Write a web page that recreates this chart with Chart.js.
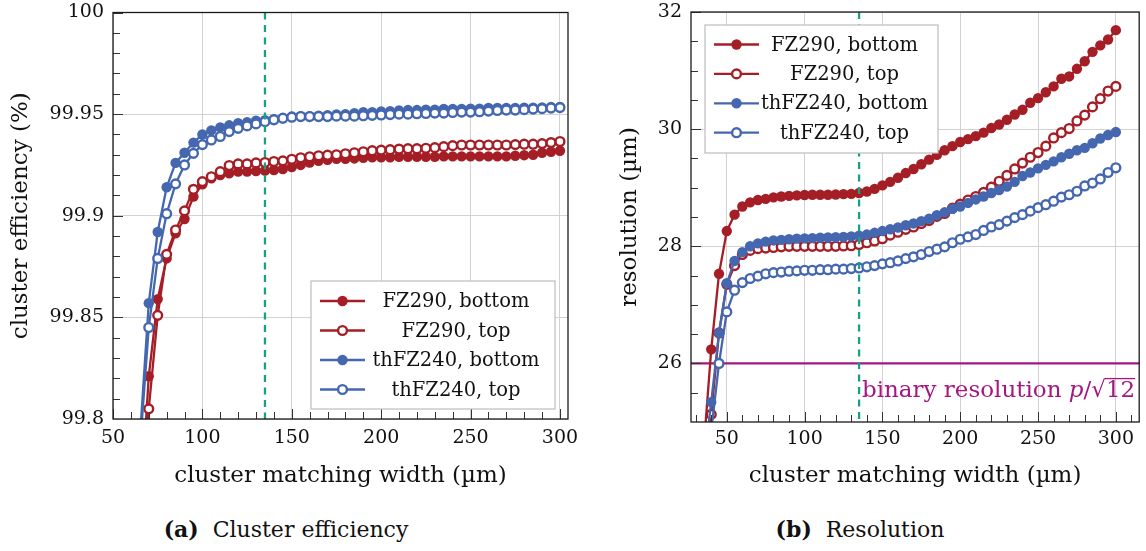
<!DOCTYPE html>
<html>
<head>
<meta charset="utf-8">
<title>Cluster efficiency and resolution vs cluster matching width</title>
<script src="https://cdn.jsdelivr.net/npm/chart.js@4.4.0/dist/chart.umd.min.js"></script>
<style>
  body { margin: 0; background: #fff; width: 1146px; height: 551px; position: relative; overflow: hidden; font-family: 'DejaVu Serif', serif; color: #111; }
  canvas { position: absolute; top: 0; }
  #eff { left: 0; }
  #res { left: 580px; }
  .caption { position: absolute; top: 516px; font-size: 22px; line-height: 26px; white-space: nowrap; transform: translateX(-50%); }
</style>
</head>
<body>
<canvas id="eff" width="580" height="500"></canvas>
<canvas id="res" width="566" height="500"></canvas>
<div class="caption" style="left:286px"><b>(a)</b>&nbsp; Cluster efficiency</div>
<div class="caption" style="left:860px"><b>(b)</b>&nbsp; Resolution</div>
<script>
// ---- data ----
const seriesNames = ['FZ290, bottom', 'FZ290, top', 'thFZ240, bottom', 'thFZ240, top'];

// (a) cluster efficiency (%)
const effWidth = [65, 70, 75, 80, 85, 90, 95, 100,
  105, 110, 115, 120, 125, 130, 135, 140, 145, 150,
  155, 160, 165, 170, 175, 180, 185, 190, 195, 200,
  205, 210, 215, 220, 225, 230, 235, 240, 245, 250,
  255, 260, 265, 270, 275, 280, 285, 290, 295, 300];
const effFZ290Bottom = [99.75, 99.821, 99.859, 99.879, 99.8914, 99.8984, 99.9094, 99.9155,
  99.9184, 99.920, 99.9209, 99.9217, 99.9217, 99.922, 99.9222, 99.9225, 99.923, 99.924,
  99.925, 99.9262, 99.927, 99.9275, 99.928, 99.928, 99.9282, 99.9285, 99.9288, 99.9288,
  99.9288, 99.929, 99.929, 99.929, 99.929, 99.929, 99.9292, 99.9292, 99.9292, 99.9292,
  99.9292, 99.9292, 99.9292, 99.9292, 99.9295, 99.9298, 99.930, 99.931, 99.9315, 99.932];
const effFZ290Top = [99.76, 99.805, 99.851, 99.881, 99.893, 99.9024, 99.913, 99.9168,
  99.9192, 99.9217, 99.9247, 99.9255, 99.9255, 99.926, 99.9262, 99.9267, 99.927, 99.9278,
  99.9285, 99.929, 99.9295, 99.9298, 99.930, 99.9305, 99.931, 99.9315, 99.932, 99.9323,
  99.9325, 99.9328, 99.933, 99.933, 99.9332, 99.9335, 99.934, 99.9345, 99.9348, 99.9348,
  99.9348, 99.9348, 99.9348, 99.9348, 99.935, 99.9352, 99.9352, 99.9355, 99.936, 99.9365];
const effThFZ240Bottom = [99.79, 99.857, 99.892, 99.914, 99.926, 99.931, 99.936, 99.940,
  99.942, 99.9435, 99.9445, 99.9455, 99.946, 99.9468, 99.947, 99.9475, 99.948, 99.9488,
  99.949, 99.949, 99.9492, 99.9495, 99.9498, 99.950, 99.9505, 99.951, 99.951, 99.9513,
  99.9515, 99.9518, 99.952, 99.952, 99.9522, 99.9522, 99.9525, 99.9525, 99.9525, 99.9527,
  99.9527, 99.953, 99.953, 99.953, 99.953, 99.9532, 99.9532, 99.9533, 99.9535, 99.9535];
const effThFZ240Top = [99.785, 99.845, 99.879, 99.901, 99.9157, 99.925, 99.9307, 99.935,
  99.9373, 99.939, 99.9414, 99.943, 99.9442, 99.9452, 99.9463, 99.9472, 99.948, 99.9485,
  99.9488, 99.9488, 99.9488, 99.9488, 99.949, 99.949, 99.949, 99.9492, 99.9494, 99.9496,
  99.9498, 99.950, 99.950, 99.9502, 99.9503, 99.9505, 99.9505, 99.9508, 99.951, 99.951,
  99.9512, 99.9515, 99.9518, 99.952, 99.952, 99.9522, 99.9525, 99.9527, 99.953, 99.9532];

// (b) resolution (um)
const resWidth = [35, 40, 45, 50,
  55, 60, 65, 70, 75, 80, 85, 90, 95, 100,
  105, 110, 115, 120, 125, 130, 135, 140, 145, 150,
  155, 160, 165, 170, 175, 180, 185, 190, 195, 200,
  205, 210, 215, 220, 225, 230, 235, 240, 245, 250,
  255, 260, 265, 270, 275, 280, 285, 290, 295, 300];
const resFZ290Bottom = [24.5, 26.24, 27.53, 28.26,
  28.54, 28.68, 28.75, 28.79, 28.81, 28.835, 28.85, 28.86, 28.87, 28.875,
  28.88, 28.88, 28.88, 28.885, 28.89, 28.895, 28.91, 28.935, 28.98, 29.04,
  29.10, 29.17, 29.25, 29.32, 29.40, 29.48, 29.56, 29.64, 29.71, 29.78,
  29.83, 29.88, 29.94, 30.02, 30.08, 30.16, 30.25, 30.33, 30.45, 30.53,
  30.63, 30.73, 30.86, 30.90, 31.03, 31.16, 31.32, 31.43, 31.53, 31.69];
const resFZ290Top = [24.0, 25.13, 26.52, 27.35,
  27.67, 27.86, 27.93, 27.96, 27.97, 27.98, 27.99, 28.0, 28.0, 28.0,
  28.0, 28.0, 28.0, 28.0, 28.005, 28.01, 28.03, 28.06, 28.09, 28.13,
  28.19, 28.24, 28.29, 28.33, 28.39, 28.44, 28.51, 28.56, 28.65, 28.72,
  28.79, 28.85, 28.92, 29.01, 29.11, 29.21, 29.32, 29.42, 29.52, 29.60,
  29.71, 29.85, 29.94, 30.01, 30.14, 30.24, 30.38, 30.52, 30.65, 30.73];
const resThFZ240Bottom = [24.2, 25.34, 26.52, 27.37,
  27.75, 27.90, 28.0, 28.05, 28.08, 28.10, 28.11, 28.12, 28.13, 28.135,
  28.14, 28.145, 28.15, 28.155, 28.16, 28.17, 28.18, 28.20, 28.23, 28.26,
  28.29, 28.32, 28.36, 28.39, 28.43, 28.47, 28.53, 28.58, 28.64, 28.68,
  28.74, 28.80, 28.85, 28.91, 28.96, 29.02, 29.10, 29.20, 29.26, 29.33,
  29.39, 29.45, 29.52, 29.58, 29.64, 29.68, 29.76, 29.84, 29.90, 29.95];
const resThFZ240Top = [23.8, 24.85, 26.0, 26.88,
  27.25, 27.38, 27.45, 27.49, 27.53, 27.55, 27.56, 27.575, 27.58, 27.59,
  27.59, 27.60, 27.60, 27.61, 27.61, 27.62, 27.63, 27.65, 27.67, 27.70,
  27.72, 27.75, 27.79, 27.82, 27.86, 27.91, 27.95, 27.99, 28.06, 28.12,
  28.16, 28.20, 28.27, 28.33, 28.37, 28.43, 28.49, 28.54, 28.60, 28.66,
  28.71, 28.77, 28.84, 28.88, 28.94, 29.03, 29.08, 29.15, 29.26, 29.34];

const effTicksX = [50, 100, 150, 200, 250, 300];
const effTicksY = [99.8, 99.85, 99.9, 99.95, 100];
const resTicksX = [50, 100, 150, 200, 250, 300];
const resTicksY = [26, 28, 30, 32];

const matchingCut = 135;      // dashed line
const binaryResolution = 26;  // p / sqrt(12)

// ---- style ----
const RED = '#a51e25';
const BLUE = '#4467b0';
const TEAL = '#17a086';
const PURPLE = '#a3177f';
const GRID = '#d2d2d2';
const INK = '#111';
const FONT = '"DejaVu Serif", serif';

const styles = [
  { color: RED, filled: true },
  { color: RED, filled: false },
  { color: BLUE, filled: true },
  { color: BLUE, filled: false }
];

function lineSet(i, xs, ys) {
  const s = styles[i];
  return {
    label: seriesNames[i],
    data: xs.map((x, k) => ({ x: x, y: ys[k] })),
    borderColor: s.color,
    borderWidth: 2.3,
    pointRadius: s.filled ? 5.2 : 4.4,
    pointBorderWidth: s.filled ? 0 : 2.4,
    pointBackgroundColor: s.filled ? s.color : '#fff',
    pointBorderColor: s.color,
    pointHoverRadius: 0,
    tension: 0,
    fill: false,
    order: 3 - i
  };
}

function drawMarker(ctx, x, y, s) {
  ctx.beginPath();
  ctx.arc(x, y, s.filled ? 5.2 : 4.4, 0, Math.PI * 2);
  ctx.fillStyle = s.filled ? s.color : '#fff';
  ctx.fill();
  if (!s.filled) {
    ctx.lineWidth = 2.4;
    ctx.strokeStyle = s.color;
    ctx.stroke();
  }
}

function range(a, b, step) {
  const out = [];
  for (let v = a; v <= b + 1e-9; v += step) out.push(+v.toFixed(4));
  return out;
}

// ticks, frame, reference lines and legend
function decor(cfg) {
  return {
    id: 'decor',
    beforeDatasetsDraw(chart) {
      const { ctx, chartArea: a, scales: { y } } = chart;
      if (cfg.hline !== undefined) {
        const py = y.getPixelForValue(cfg.hline);
        ctx.save();
        ctx.strokeStyle = PURPLE;
        ctx.lineWidth = 2.3;
        ctx.beginPath();
        ctx.moveTo(a.left, py);
        ctx.lineTo(a.right, py);
        ctx.stroke();
        ctx.restore();
      }
    },
    afterDatasetsDraw(chart) {
      const { ctx, chartArea: a, scales: { x, y } } = chart;
      ctx.save();
      // dashed cut
      const vx = x.getPixelForValue(cfg.vline);
      ctx.strokeStyle = TEAL;
      ctx.lineWidth = 2.3;
      ctx.setLineDash([7, 5.5]);
      ctx.beginPath();
      ctx.moveTo(vx, a.top);
      ctx.lineTo(vx, a.bottom);
      ctx.stroke();
      ctx.setLineDash([]);

      // inward tick marks
      ctx.strokeStyle = '#333';
      ctx.lineWidth = 1;
      ctx.beginPath();
      cfg.xMinor.forEach(v => {
        const px = Math.round(x.getPixelForValue(v)) + 0.5;
        if (px <= a.left || px >= a.right) return;
        const len = cfg.xMajor.includes(v) ? 10 : 7;
        ctx.moveTo(px, a.bottom);
        ctx.lineTo(px, a.bottom - len);
      });
      cfg.yMinor.forEach(v => {
        const py = Math.round(y.getPixelForValue(v)) + 0.5;
        if (py <= a.top || py >= a.bottom) return;
        const len = cfg.yMajor.some(m => Math.abs(m - v) < 1e-6) ? 10 : 7;
        ctx.moveTo(a.left, py);
        ctx.lineTo(a.left + len, py);
      });
      ctx.stroke();

      // frame
      ctx.strokeStyle = '#1a1a1a';
      ctx.lineWidth = 1.3;
      ctx.strokeRect(a.left, a.top, a.right - a.left, a.bottom - a.top);

      // binary resolution label
      if (cfg.hline !== undefined) {
        const size = 23;
        const up = size + 'px ' + FONT;
        const it = 'italic ' + size + 'px ' + FONT;
        const parts = [['binary resolution ', up], ['p', it], ['/', up], ['\u221A', up], ['12', up]];
        let total = 0;
        const widths = parts.map(p => { ctx.font = p[1]; const w = ctx.measureText(p[0]).width; total += w; return w; });
        let px = a.right - 4 - total;
        const base = y.getPixelForValue(cfg.hline) + 34;
        ctx.fillStyle = PURPLE;
        ctx.textBaseline = 'alphabetic';
        ctx.textAlign = 'left';
        parts.forEach((p, i) => {
          ctx.font = p[1];
          ctx.fillText(p[0], px, base);
          if (p[0] === '12') {
            ctx.strokeStyle = PURPLE;
            ctx.lineWidth = 1.3;
            ctx.beginPath();
            ctx.moveTo(px - 1, base - size * 0.82);
            ctx.lineTo(px + widths[i], base - size * 0.82);
            ctx.stroke();
          }
          px += widths[i];
        });
      }

      // legend
      const L = cfg.legend;
      const bx = L.fromRight ? a.right - L.dx - L.w : a.left + L.dx;
      const by = L.fromBottom ? a.bottom - L.dy - L.h : a.top + L.dy;
      ctx.fillStyle = '#fff';
      ctx.fillRect(bx, by, L.w, L.h);
      ctx.strokeStyle = '#bdbdbd';
      ctx.lineWidth = 1.2;
      ctx.strokeRect(bx, by, L.w, L.h);
      ctx.font = '19.5px ' + FONT;
      ctx.textAlign = 'center';
      ctx.textBaseline = 'middle';
      seriesNames.forEach((name, i) => {
        const ry = by + L.first + i * L.step;
        const s = styles[i];
        ctx.strokeStyle = s.color;
        ctx.lineWidth = 2.3;
        ctx.beginPath();
        ctx.moveTo(bx + 9, ry);
        ctx.lineTo(bx + 54, ry);
        ctx.stroke();
        drawMarker(ctx, bx + 31.5, ry, s);
        ctx.fillStyle = INK;
        ctx.fillText(name, bx + L.textX, ry + 1);
      });
      ctx.restore();
    }
  };
}

function axes(o) {
  const tickFont = { family: FONT, size: 19 };
  const titleFont = { family: FONT, size: 23 };
  return {
    x: {
      type: 'linear', min: o.xMin, max: o.xMax,
      afterBuildTicks: s => { s.ticks = o.xTicks.map(v => ({ value: v })); },
      afterFit: s => { s.height = o.xHeight; s.paddingLeft = 0; s.paddingRight = 0; },
      grid: { color: GRID, lineWidth: 1, drawTicks: false },
      border: { display: false },
      ticks: { font: tickFont, color: INK, padding: o.xPad, maxRotation: 0, autoSkip: false, callback: v => String(v) },
      title: { display: true, text: 'cluster matching width (µm)', font: titleFont, color: INK, padding: { bottom: 10 } }
    },
    y: {
      type: 'linear', min: o.yMin, max: o.yMax,
      afterBuildTicks: s => { s.ticks = o.yTicks.map(v => ({ value: v })); },
      afterFit: s => { s.width = o.yWidth; s.paddingTop = 0; s.paddingBottom = 0; },
      grid: { color: GRID, lineWidth: 1, drawTicks: false },
      border: { display: false },
      ticks: { font: tickFont, color: INK, padding: 9, autoSkip: false, callback: v => String(+v.toFixed(2)) },
      title: { display: true, text: o.yTitle, font: titleFont, color: INK, padding: { top: o.yTitlePad } }
    }
  };
}

const common = {
  responsive: false,
  animation: false,
  events: [],
  plugins: { legend: { display: false }, tooltip: { enabled: false } }
};

new Chart(document.getElementById('eff'), {
  type: 'line',
  data: {
    datasets: [
      lineSet(0, effWidth, effFZ290Bottom),
      lineSet(1, effWidth, effFZ290Top),
      lineSet(2, effWidth, effThFZ240Bottom),
      lineSet(3, effWidth, effThFZ240Top)
    ]
  },
  options: Object.assign({}, common, {
    layout: { padding: { top: 12.5, right: 12, left: 0, bottom: 0 } },
    scales: axes({
      xMin: 50, xMax: 304.5, xTicks: effTicksX, xHeight: 81, xPad: 8,
      yMin: 99.8, yMax: 100, yTicks: effTicksY, yWidth: 113,
      yTitle: 'cluster efficiency (%)', yTitlePad: 7
    })
  }),
  plugins: [decor({
    vline: matchingCut,
    xMajor: effTicksX, xMinor: range(50, 300, 10),
    yMajor: effTicksY, yMinor: range(99.8, 100, 0.01),
    legend: { fromRight: true, fromBottom: true, dx: 13, dy: 10, w: 244, h: 128, first: 20, step: 29.5, textX: 145 }
  })]
});

new Chart(document.getElementById('res'), {
  type: 'line',
  data: {
    datasets: [
      lineSet(0, resWidth, resFZ290Bottom),
      lineSet(1, resWidth, resFZ290Top),
      lineSet(2, resWidth, resThFZ240Bottom),
      lineSet(3, resWidth, resThFZ240Top)
    ]
  },
  options: Object.assign({}, common, {
    layout: { padding: { top: 12, right: 3, left: 0, bottom: 0 } },
    scales: axes({
      xMin: 27, xMax: 315, xTicks: resTicksX, xHeight: 78, xPad: 6,
      yMin: 25, yMax: 32, yTicks: resTicksY, yWidth: 111,
      yTitle: 'resolution (µm)', yTitlePad: 36
    })
  }),
  plugins: [decor({
    vline: matchingCut, hline: binaryResolution,
    xMajor: resTicksX, xMinor: range(30, 310, 10),
    yMajor: resTicksY, yMinor: range(25, 32, 0.5),
    legend: { fromRight: false, fromBottom: false, dx: 14, dy: 13, w: 233, h: 128, first: 19.5, step: 29.4, textX: 139.5 }
  })]
});
</script>
</body>
</html>
